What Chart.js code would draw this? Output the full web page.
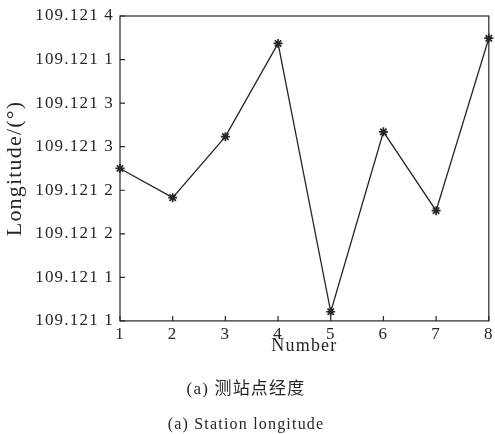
<!DOCTYPE html>
<html>
<head>
<meta charset="utf-8">
<title>Station longitude</title>
<script src="https://cdn.jsdelivr.net/npm/chart.js@4/dist/chart.umd.min.js"></script>
<style>
    html, body { margin: 0; padding: 0; background: #fff; }
    canvas { display: block; }
</style>
</head>
<body>
<canvas id="longitudeChart" width="495" height="434"></canvas>
<script>
const stationNumbers = ['1', '2', '3', '4', '5', '6', '7', '8'];
const longitudeValues = [109.121275, 109.1212415, 109.1213115, 109.1214185, 109.1211105, 109.121317, 109.1212265, 109.1214245];
const yTickValues = [109.1211, 109.12115, 109.1212, 109.12125, 109.1213, 109.12135, 109.1214, 109.12145];
const yTickLabels = ['109.121 1', '109.121 1', '109.121 2', '109.121 2', '109.121 3', '109.121 3', '109.121 1', '109.121 4'];

const ink = '#262626';
const serif = "'Liberation Serif', 'Times New Roman', 'Noto Sans CJK SC', serif";

// the source figure's text is set a little wider than plain Times
const spacingPlugin = {
    id: 'spacing',
    beforeUpdate(chart) { chart.ctx.letterSpacing = '1.2px'; },
    beforeDraw(chart) { chart.ctx.letterSpacing = '1.2px'; }
};

// box round the plot and short ticks pointing inwards
const framePlugin = {
    id: 'frame',
    beforeDatasetsDraw(chart) {
        const { ctx, chartArea: a, scales: { x, y } } = chart;
        ctx.save();
        ctx.strokeStyle = ink;
        ctx.lineWidth = 1.2;
        ctx.strokeRect(a.left, a.top, a.right - a.left, a.bottom - a.top);
        ctx.beginPath();
        x.ticks.forEach((t, i) => {
            const px = x.getPixelForTick(i);
            ctx.moveTo(px, a.bottom);
            ctx.lineTo(px, a.bottom - 5);
        });
        y.ticks.forEach((t, i) => {
            const py = y.getPixelForTick(i);
            ctx.moveTo(a.left, py);
            ctx.lineTo(a.left + 5, py);
        });
        ctx.stroke();
        ctx.restore();
    }
};

new Chart(document.getElementById('longitudeChart'), {
    type: 'line',
    data: {
        labels: stationNumbers,
        datasets: [{
            data: longitudeValues,
            borderColor: ink,
            borderWidth: 1.3,
            pointStyle: 'star',
            pointRadius: 4.5,
            pointBorderWidth: 1.7,
            pointBorderColor: ink,
            pointBackgroundColor: ink,
            tension: 0,
            clip: false
        }]
    },
    options: {
        responsive: false,
        animation: false,
        layout: { padding: { left: 0, right: 3, top: 16, bottom: 0 } },
        plugins: {
            legend: { display: false },
            tooltip: { enabled: false },
            subtitle: {
                display: true,
                position: 'bottom',
                text: '(a) 测站点经度',
                color: ink,
                font: { family: serif, size: 17, lineHeight: 1.2 },
                padding: { top: 18, bottom: 0 }
            },
            title: {
                display: true,
                position: 'bottom',
                text: '(a) Station longitude',
                color: ink,
                font: { family: serif, size: 16, weight: 'normal', lineHeight: 1.2 },
                padding: { top: 15.5, bottom: 0 }
            }
        },
        scales: {
            x: {
                type: 'category',
                offset: false,
                grid: { display: false, drawTicks: false },
                border: { display: false },
                ticks: {
                    color: ink,
                    padding: 3,
                    maxRotation: 0,
                    font: { family: serif, size: 17 }
                },
                title: {
                    display: true,
                    text: 'Number',
                    color: ink,
                    font: { family: serif, size: 18, lineHeight: 1.2 },
                    padding: { top: 0, bottom: 4 }
                },
                afterFit(scale) {
                    scale.height = 40;
                    scale.paddingLeft = 0;
                    scale.paddingRight = 0;
                }
            },
            y: {
                min: 109.1211,
                max: 109.12145,
                grid: { display: false, drawTicks: false },
                border: { display: false },
                afterBuildTicks(scale) {
                    scale.ticks = yTickValues.map(v => ({ value: v }));
                },
                ticks: {
                    autoSkip: false,
                    color: ink,
                    padding: 6,
                    font: { family: serif, size: 17 },
                    callback: (value, index) => yTickLabels[index]
                },
                title: {
                    display: true,
                    text: 'Longitude/(°)',
                    color: ink,
                    font: { family: serif, size: 22, lineHeight: 1.2 },
                    padding: { top: 2, bottom: 0 }
                },
                afterFit(scale) {
                    scale.width = 120;
                    scale.paddingTop = 0;
                    scale.paddingBottom = 0;
                }
            }
        }
    },
    plugins: [spacingPlugin, framePlugin]
});
</script>
</body>
</html>
